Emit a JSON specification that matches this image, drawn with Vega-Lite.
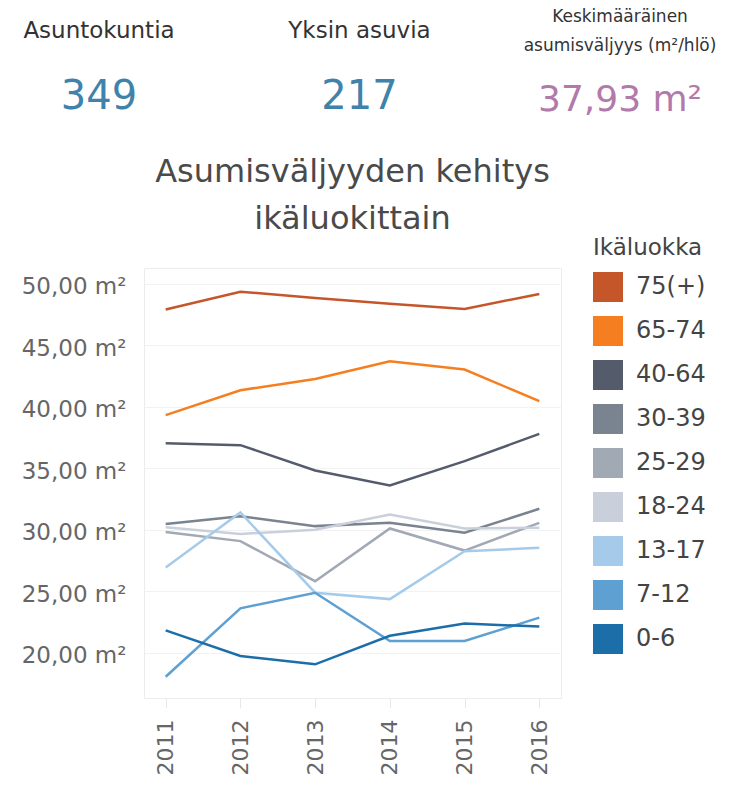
{
  "$schema": "https://vega.github.io/schema/vega-lite/v6.json",
  "background": "white",
  "padding": {"left": 20, "top": 0, "right": 0, "bottom": 0},
  "config": {"font": "DejaVu Sans"},
  "columns": 1,
  "align": "none",
  "spacing": 27,
  "resolve": {"legend": {"color": "independent"}},
  "concat": [
    {
      "width": 521,
      "height": 128,
      "view": {"stroke": null},
      "data": {"values": [
        {"col": "a", "label": "Asuntokuntia", "value": "349"},
        {"col": "b", "label": "Yksin asuvia", "value": "217"},
        {"col": "c", "label": "Keskimääräinen\nasumisväljyys (m²/hlö)", "value": "37,93 m²"}
      ]},
      "encoding": {
        "x": {"field": "col", "type": "nominal", "axis": null,
              "scale": {"type": "point", "padding": 0}},
        "y": {"datum": "label", "type": "nominal", "axis": null,
              "scale": {"type": "point", "domain": ["label", "value"], "padding": 0.47}}
      },
      "layer": [
        {
          "transform": [{"filter": "datum.col !== 'c'"}],
          "mark": {"type": "text", "baseline": "middle", "align": "center", "dx": -45, "fontSize": 23, "color": "#333333"},
          "encoding": {"text": {"field": "label"}}
        },
        {
          "transform": [{"filter": "datum.col === 'c'"}],
          "mark": {"type": "text", "baseline": "middle", "align": "center", "dx": -45, "dy": -14, "fontSize": 17, "lineBreak": "\n", "lineHeight": 29, "color": "#333333"},
          "encoding": {"text": {"field": "label"}}
        },
        {
          "transform": [{"filter": "datum.col !== 'c'"}],
          "mark": {"type": "text", "baseline": "middle", "align": "center", "dx": -45, "fontSize": 40, "color": "#3f82aa"},
          "encoding": {
            "y": {"datum": "value", "type": "nominal"},
            "text": {"field": "value"}
          }
        },
        {
          "transform": [{"filter": "datum.col === 'c'"}],
          "mark": {"type": "text", "baseline": "middle", "align": "center", "dx": -45, "dy": 3, "fontSize": 36, "color": "#b17aaa"},
          "encoding": {
            "y": {"datum": "value", "type": "nominal"},
            "text": {"field": "value"}
          }
        }
      ]
    },
    {
      "width": 417,
      "height": 430,
      "view": {"stroke": "#ececec"},
      "title": {
        "text": ["Asumisväljyyden kehitys", "ikäluokittain"],
        "fontSize": 32, "fontWeight": "normal", "color": "#4a4a4a",
        "lineHeight": 47, "anchor": "middle", "frame": "group", "offset": 1
      },
      "data": {"values": [
        {"year": "2011", "group": "75(+)", "value": 47.92},
        {"year": "2012", "group": "75(+)", "value": 49.37},
        {"year": "2013", "group": "75(+)", "value": 48.86},
        {"year": "2014", "group": "75(+)", "value": 48.4},
        {"year": "2015", "group": "75(+)", "value": 47.97},
        {"year": "2016", "group": "75(+)", "value": 49.19},
        {"year": "2011", "group": "65-74", "value": 39.32},
        {"year": "2012", "group": "65-74", "value": 41.35},
        {"year": "2013", "group": "65-74", "value": 42.27},
        {"year": "2014", "group": "65-74", "value": 43.71},
        {"year": "2015", "group": "65-74", "value": 43.04},
        {"year": "2016", "group": "65-74", "value": 40.46},
        {"year": "2011", "group": "40-64", "value": 37.04},
        {"year": "2012", "group": "40-64", "value": 36.88},
        {"year": "2013", "group": "40-64", "value": 34.82},
        {"year": "2014", "group": "40-64", "value": 33.6},
        {"year": "2015", "group": "40-64", "value": 35.58},
        {"year": "2016", "group": "40-64", "value": 37.8},
        {"year": "2011", "group": "30-39", "value": 30.47},
        {"year": "2012", "group": "30-39", "value": 31.1},
        {"year": "2013", "group": "30-39", "value": 30.29},
        {"year": "2014", "group": "30-39", "value": 30.56},
        {"year": "2015", "group": "30-39", "value": 29.75},
        {"year": "2016", "group": "30-39", "value": 31.7},
        {"year": "2011", "group": "25-29", "value": 29.82},
        {"year": "2012", "group": "25-29", "value": 29.07},
        {"year": "2013", "group": "25-29", "value": 25.81},
        {"year": "2014", "group": "25-29", "value": 30.1},
        {"year": "2015", "group": "25-29", "value": 28.3},
        {"year": "2016", "group": "25-29", "value": 30.56},
        {"year": "2011", "group": "18-24", "value": 30.2},
        {"year": "2012", "group": "18-24", "value": 29.65},
        {"year": "2013", "group": "18-24", "value": 30.0},
        {"year": "2014", "group": "18-24", "value": 31.24},
        {"year": "2015", "group": "18-24", "value": 30.1},
        {"year": "2016", "group": "18-24", "value": 30.15},
        {"year": "2011", "group": "13-17", "value": 26.92},
        {"year": "2012", "group": "13-17", "value": 31.4},
        {"year": "2013", "group": "13-17", "value": 24.87},
        {"year": "2014", "group": "13-17", "value": 24.35},
        {"year": "2015", "group": "13-17", "value": 28.25},
        {"year": "2016", "group": "13-17", "value": 28.52},
        {"year": "2011", "group": "7-12", "value": 18.03},
        {"year": "2012", "group": "7-12", "value": 23.6},
        {"year": "2013", "group": "7-12", "value": 24.87},
        {"year": "2014", "group": "7-12", "value": 20.94},
        {"year": "2015", "group": "7-12", "value": 20.94},
        {"year": "2016", "group": "7-12", "value": 22.84},
        {"year": "2011", "group": "0-6", "value": 21.8},
        {"year": "2012", "group": "0-6", "value": 19.72},
        {"year": "2013", "group": "0-6", "value": 19.04},
        {"year": "2014", "group": "0-6", "value": 21.36},
        {"year": "2015", "group": "0-6", "value": 22.36},
        {"year": "2016", "group": "0-6", "value": 22.11}
      ]},
      "mark": {"type": "line", "strokeWidth": 2.5},
      "encoding": {
        "x": {"field": "year", "type": "ordinal",
              "scale": {"type": "point", "padding": 0.29},
              "axis": {"title": null, "labelAngle": -90, "labelAlign": "right", "labelBaseline": "middle",
                       "labelFontSize": 22, "labelColor": "#666666", "labelPadding": 11,
                       "ticks": true, "tickSize": 10, "tickColor": "#e8e8e8", "domain": false, "grid": false}},
        "y": {"field": "value", "type": "quantitative",
              "scale": {"domain": [16.3, 51.3], "nice": false, "zero": false},
              "axis": {"title": null, "values": [20, 25, 30, 35, 40, 45, 50],
                       "labelExpr": "replace(format(datum.value, '.2f'), '.', ',') + ' m²'",
                       "labelFontSize": 23, "labelColor": "#666666", "labelPadding": 18, "labelOffset": 3,
                       "ticks": false, "domain": false, "gridColor": "#f2f2f2"}},
        "color": {"field": "group", "type": "nominal",
                  "scale": {"domain": ["75(+)", "65-74", "40-64", "30-39", "25-29", "18-24", "13-17", "7-12", "0-6"],
                            "range": ["#c5562a", "#f57f20", "#545c6b", "#7a8390", "#a1a9b5", "#c9d0dc", "#a6cbea", "#5ea0d1", "#1c6ea8"]},
                  "legend": {"title": "Ikäluokka", "orient": "none", "legendX": 449, "legendY": -31,
                             "titleFontSize": 23, "titleFontWeight": "normal", "titleColor": "#444444", "titlePadding": 12,
                             "labelFontSize": 24, "labelColor": "#444444", "labelOffset": 13,
                             "symbolType": "square", "symbolSize": 900, "symbolStrokeWidth": 0, "symbolOpacity": 1,
                             "rowPadding": 14,
                             "encode": {"symbols": {"update": {"fill": {"scale": "color", "field": "value"}, "fillOpacity": {"value": 1}, "strokeWidth": {"value": 0}}}}}}
      }
    }
  ]
}
